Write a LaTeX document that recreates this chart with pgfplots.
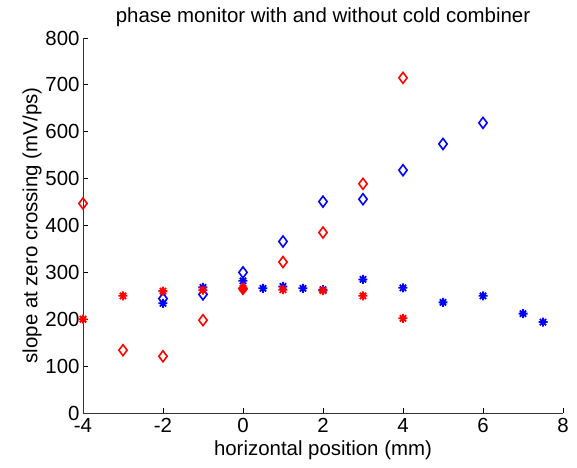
\documentclass[border=0pt]{standalone}
\usepackage{pgfplots}
\pgfplotsset{compat=1.18}
\usepackage{fontspec}
\setmainfont{Liberation Sans}
\pgfdeclareplotmark{mstar}{%
  \pgfpathmoveto{\pgfqpoint{-\pgfplotmarksize}{0pt}}\pgfpathlineto{\pgfqpoint{\pgfplotmarksize}{0pt}}%
  \pgfpathmoveto{\pgfqpoint{0pt}{-\pgfplotmarksize}}\pgfpathlineto{\pgfqpoint{0pt}{\pgfplotmarksize}}%
  \pgfpathmoveto{\pgfqpoint{-.7\pgfplotmarksize}{-.7\pgfplotmarksize}}\pgfpathlineto{\pgfqpoint{.7\pgfplotmarksize}{.7\pgfplotmarksize}}%
  \pgfpathmoveto{\pgfqpoint{-.7\pgfplotmarksize}{.7\pgfplotmarksize}}\pgfpathlineto{\pgfqpoint{.7\pgfplotmarksize}{-.7\pgfplotmarksize}}%
  \pgfusepathqstroke}
\begin{document}
\begin{tikzpicture}
\begin{axis}[
  width=480bp, height=375bp, scale only axis,
  xmin=-4, xmax=8, ymin=0, ymax=800,
  xtick={-4,-2,0,2,4,6,8}, ytick={0,100,...,800},
  axis x line*=bottom, axis y line*=left,
  axis line style={black!80, line width=0.8bp, -},
  tick align=inside, major tick length=5bp,
  tick style={black, line width=0.8bp},
  clip=false,
  /pgf/number format/assume math mode=true,
  ticklabel style={font=\fontsize{20.5}{24}\selectfont},
  xticklabel style={yshift=-2bp},
  label style={font=\fontsize{20.5}{24}\selectfont},
  title style={font=\fontsize{20.5}{24}\selectfont, yshift=2bp},
  title={phase monitor with and without cold combiner},
  xlabel={horizontal position (mm)},
  ylabel={slope at zero crossing (mV/ps)},
  xlabel style={yshift=-1bp},
  ylabel style={yshift=-3bp},
]
\addplot[only marks, blue, mark=diamond, mark size=5.5bp, line width=1.6bp] coordinates {
(-2,244) (-1,253) (0,300) (1,366) (2,451) (3,456) (4,518) (5,574) (6,619)};
\addplot[only marks, blue, mark=mstar, mark size=4.5bp, line width=1.8bp] coordinates {
(-2,234) (-1,268) (0,282) (0.5,266) (1,270) (1.5,266) (2,263) (3,285) (4,267) (5,236) (6,250) (7,212) (7.5,194)};
\addplot[only marks, red, mark=diamond, mark size=5.5bp, line width=1.6bp] coordinates {
(-4,447) (-3,134) (-2,121) (-1,198) (1,322) (2,385) (3,489) (4,715)};
\addplot[only marks, red, mark=diamond*, mark size=5.5bp, line width=1.6bp] coordinates {(0,265)};
\addplot[only marks, red, mark=mstar, mark size=4.5bp, line width=1.8bp] coordinates {
(-4,200) (-3,250) (-2,260) (-1,262) (0,266) (1,263) (2,261) (3,250) (4,202)};
\end{axis}
\pgfresetboundingbox
\useasboundingbox ([xshift=-83bp,yshift=-55bp]current axis.south west) rectangle ([xshift=14bp,yshift=38bp]current axis.north east);
\end{tikzpicture}
\end{document}
